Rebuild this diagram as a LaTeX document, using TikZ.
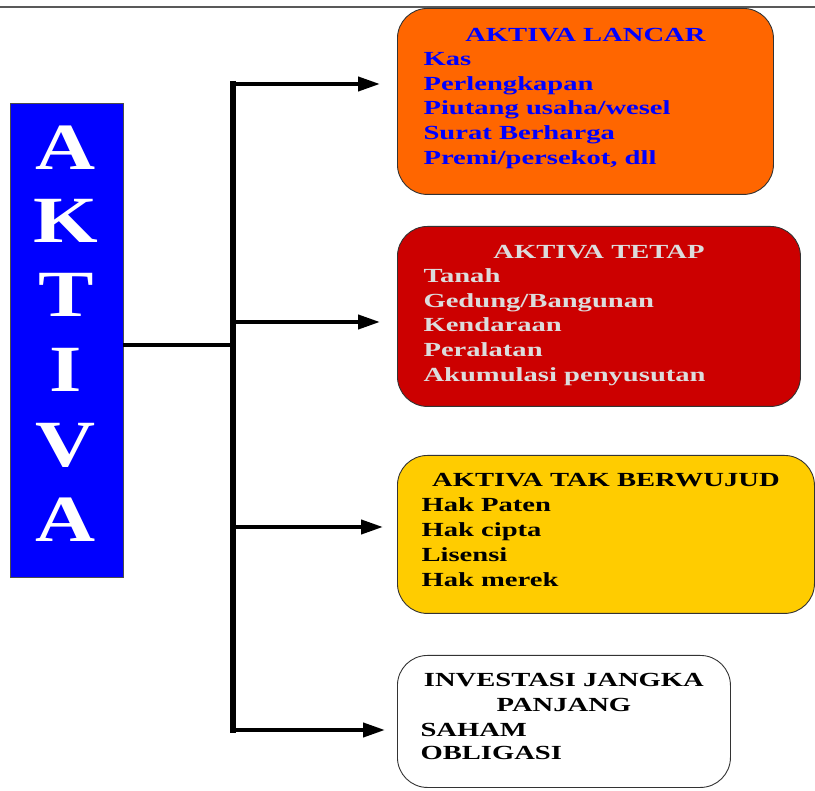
\documentclass[tikz,border=0pt]{standalone}
\usepackage{fontspec}
\setmainfont{Liberation Serif}[FakeStretch=1.43]
\newfontfamily\bigletter{Liberation Serif}[FakeStretch=1.26]
\usetikzlibrary{arrows.meta,positioning}
\definecolor{lancarfill}{HTML}{FF6600}
\definecolor{tetapfill}{HTML}{CC0000}
\definecolor{wujudfill}{HTML}{FFCC00}
\definecolor{tetaptext}{HTML}{DCDCDC}
\tikzset{
  box/.style={draw=black!80, rounded corners=30pt, line width=0.9pt, inner sep=0pt, anchor=north west},
  title/.style={anchor=base, font=\bfseries\fontsize{20}{24}\selectfont},
  item/.style={anchor=base west, font=\bfseries\fontsize{20}{24}\selectfont},
  branch/.style={line width=4pt, -{Triangle[length=22pt,width=14pt]}},
  letter/.style={anchor=base, text=white, font=\bigletter\bfseries\fontsize{66}{66}\selectfont}
}
\begin{document}
\begin{tikzpicture}[x=1pt,y=-1pt]
\useasboundingbox (0,0) rectangle (815,791);
\draw[black!65, line width=1.2pt] (0,7) -- (815,7);
% kolom AKTIVA
\node[draw=black!70, fill=blue, inner sep=0pt, anchor=north west, minimum width=113pt, minimum height=474pt] (aktiva) at (10,103) {};
\node[letter] (l1) at (66,170) {A};
\node[letter] (l2) at (66,243) {K};
\node[letter] (l3) at (66,317) {T};
\node[letter] (l4) at (66,392) {I};
\node[letter] (l5) at (66,467) {V};
\node[letter] (l6) at (66,542) {A};
% kotak
\node[box, fill=lancarfill, minimum width=376pt, minimum height=186pt] (lancar) at (397,8) {};
\node[box, fill=tetapfill, minimum width=403pt, minimum height=180pt] (tetap) at (397,226) {};
\node[box, fill=wujudfill, minimum width=417pt, minimum height=158pt] (wujud) at (397,455) {};
\node[box, fill=white, minimum width=333pt, minimum height=132pt] (invest) at (397,655) {};
% AKTIVA LANCAR
\node[title, text=blue] (lancar-t) at ([yshift=-34pt]lancar.north) {AKTIVA LANCAR};
\node[item, text=blue] (lancar-1) at (420,66) {Kas};
\node[item, text=blue] (lancar-2) at (420,91) {Perlengkapan};
\node[item, text=blue] (lancar-3) at (420,115) {Piutang usaha/wesel};
\node[item, text=blue] (lancar-4) at (420,140) {Surat Berharga};
\node[item, text=blue] (lancar-5) at (420,165) {Premi/persekot, dll};
% AKTIVA TETAP
\node[title, text=tetaptext] (tetap-t) at ([yshift=-33pt]tetap.north) {AKTIVA TETAP};
\node[item, text=tetaptext] (tetap-1) at (420,283) {Tanah};
\node[item, text=tetaptext] (tetap-2) at (420,308) {Gedung/Bangunan};
\node[item, text=tetaptext] (tetap-3) at (420,332) {Kendaraan};
\node[item, text=tetaptext] (tetap-4) at (420,357) {Peralatan};
\node[item, text=tetaptext] (tetap-5) at (420,382) {Akumulasi penyusutan};
% AKTIVA TAK BERWUJUD
\node[title] (wujud-t) at ([yshift=-32pt]wujud.north) {AKTIVA TAK BERWUJUD};
\node[item] (wujud-1) at (418,512) {Hak Paten};
\node[item] (wujud-2) at (418,537) {Hak cipta};
\node[item] (wujud-3) at (418,562) {Lisensi};
\node[item] (wujud-4) at (418,587) {Hak merek};
% INVESTASI JANGKA PANJANG
\node[title] (invest-t) at ([yshift=-32pt]invest.north) {INVESTASI JANGKA};
\node[title] (invest-t2) at ([yshift=-57pt]invest.north) {PANJANG};
\node[item] (invest-1) at (417,736) {SAHAM};
\node[item] (invest-2) at (417,760) {OBLIGASI};
% garis
\coordinate (hub) at (233,345);
\coordinate (ttop) at (233,81);
\coordinate (tbot) at (233,733);
\coordinate (b1) at (233,84);
\coordinate (b2) at (233,322);
\coordinate (b3) at (233,527);
\coordinate (b4) at (233,730);
\draw[line width=6pt] (ttop) -- (tbot);
\draw[line width=4pt] (aktiva.east |- hub) -- (hub);
\draw[branch, shorten >=17pt] (b1) -- (b1 -| lancar.west);
\draw[branch, shorten >=17pt] (b2) -- (b2 -| tetap.west);
\draw[branch, shorten >=14pt] (b3) -- (b3 -| wujud.west);
\draw[branch, shorten >=12pt] (b4) -- (b4 -| invest.west);
\end{tikzpicture}
\end{document}
